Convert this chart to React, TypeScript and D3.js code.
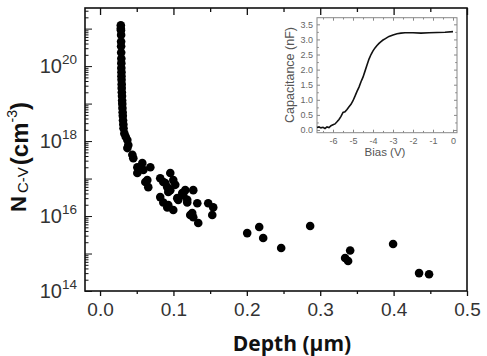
import { useEffect, useRef } from "react";
import * as d3 from "d3";

// C-V carrier profile: depth (µm) vs. carrier density (cm^-3)
const depthUm = [
  0.0283, 0.0283, 0.0285, 0.0287, 0.0287, 0.0287, 0.0288, 0.029, 0.029, 0.029,
  0.0292, 0.0292, 0.0293, 0.0295, 0.0295, 0.0297, 0.0299, 0.0301, 0.0303, 0.0305,
  0.0308, 0.031, 0.0313, 0.0317, 0.032, 0.0331, 0.035, 0.0372, 0.0385, 0.0372,
  0.044, 0.0453, 0.0508, 0.0508, 0.0576, 0.059, 0.0685, 0.0617, 0.0644, 0.0657,
  0.082, 0.0862, 0.0889, 0.0957, 0.0998, 0.1025, 0.0957, 0.093, 0.0916, 0.0862,
  0.093, 0.0998, 0.082, 0.0916, 0.1066, 0.1052, 0.1134, 0.112, 0.1161, 0.1188,
  0.1188, 0.1229, 0.127, 0.1325, 0.1256, 0.127, 0.1338, 0.1474, 0.1542, 0.1529,
  0.2005, 0.2169, 0.2223, 0.2468, 0.2863, 0.3339, 0.338, 0.3408, 0.3993, 0.4347,
  0.4483,
];
const densityCm3 = [
  1.23e21, 1.0e21, 9.1e20, 6.8e20, 4.5e20, 3.4e20, 2.3e20, 1.6e20, 1.2e20, 8.9e19,
  6.9e19, 5.4e19, 4.3e19, 3.3e19, 2.6e19, 2.0e19, 1.6e19, 1.2e19, 9.8e18, 7.6e18,
  5.9e18, 4.7e18, 3.6e18, 2.8e18, 2.2e18, 1.6e18, 1.3e18, 1.07e18, 7.8e17, 6.5e17,
  4.3e17, 3.5e17, 2.0e17, 1.4e17, 2.6e17, 1.7e17, 2.0e17, 8.1e16, 9.1e16, 5.9e16,
  1.02e17, 8.1e16, 7.6e16, 1.4e17, 9.1e16, 6.8e16, 4.9e16, 4.4e16, 5.9e16, 2.3e16,
  1.95e16, 1.45e16, 3.2e16, 1.7e16, 2.7e16, 3.0e16, 3.6e16, 4.1e16, 4.9e16, 2.3e16,
  2.7e16, 1.07e16, 4.9e16, 2.2e16, 1.2e16, 9.3e15, 6.5e15, 2.2e16, 1.7e16, 1.07e16,
  3.5e15, 5.1e15, 2.6e15, 1.4e15, 5.4e15, 7.6e14, 6.3e14, 1.2e15, 1.8e15, 3.0e14,
  2.8e14,
];

// inset: capacitance vs. bias sweep
const biasV = [
  -6.8, -6.7, -6.6, -6.5, -6.4, -6.3, -6.2, -6.1, -6.0, -5.9, -5.8, -5.7, -5.6,
  -5.5, -5.4, -5.3, -5.2, -5.1, -5.0, -4.9, -4.8, -4.7, -4.6, -4.5, -4.4, -4.3,
  -4.2, -4.1, -4.0, -3.9, -3.8, -3.7, -3.6, -3.5, -3.4, -3.3, -3.2, -3.0, -2.8,
  -2.6, -2.4, -2.0, -1.6, -1.2, -0.8, -0.4, 0.0,
];
const capNF = [
  0.08, 0.1, 0.07, 0.09, 0.05, 0.1, 0.08, 0.14, 0.17, 0.2, 0.27, 0.35, 0.45,
  0.58, 0.6, 0.68, 0.77, 0.85, 0.97, 1.12, 1.28, 1.42, 1.6, 1.75, 1.95, 2.15,
  2.35, 2.5, 2.62, 2.72, 2.8, 2.87, 2.93, 2.98, 3.02, 3.06, 3.1, 3.15, 3.19,
  3.21, 3.22, 3.22, 3.21, 3.22, 3.23, 3.24, 3.26,
];

const xMajor = [0, 0.1, 0.2, 0.3, 0.4, 0.5];
const xMinor = [0.05, 0.15, 0.25, 0.35, 0.45];
const yLabelExps = [14, 16, 18, 20];
const insetXTicks = [-6, -5, -4, -3, -2, -1, 0];
const insetYTicks = [0, 0.5, 1, 1.5, 2, 2.5, 3, 3.5];

const W = 487;
const H = 356;

const App = () => {
  const ref = useRef<SVGSVGElement | null>(null);

  useEffect(() => {
    const svg = d3.select(ref.current);
    svg.selectAll("*").remove();

    const left = 85, right = 467, top = 8, bottom = 291;
    const x = d3.scaleLinear().domain([-0.0205, 0.5]).range([left, right]);
    const y = d3.scaleLog().domain([1e14, Math.pow(10, 21.55)]).range([bottom, top]);

    const tickFont = "Liberation Sans, Arial, sans-serif";
    const titleFont = "Open Sans, sans-serif";

    // frame
    svg.append("rect")
      .attr("x", left).attr("y", top)
      .attr("width", right - left).attr("height", bottom - top)
      .attr("fill", "none").attr("stroke", "#111").attr("stroke-width", 1.6);

    // bottom axis: outward ticks + labels
    const gx = svg.append("g").attr("transform", `translate(0,${bottom})`);
    gx.call(d3.axisBottom(x).tickValues(xMajor).tickSize(5).tickSizeOuter(0)
      .tickPadding(7).tickFormat(d3.format(".1f")));
    gx.append("g").call(d3.axisBottom(x).tickValues(xMinor).tickSize(3).tickSizeOuter(0).tickFormat(() => ""));
    gx.selectAll(".domain").remove();
    gx.selectAll("line").attr("stroke", "#111").attr("stroke-width", 1.3);
    gx.selectAll("text")
      .attr("font-family", tickFont).attr("font-size", 19).attr("fill", "#333");

    // top axis: inward ticks
    const gt = svg.append("g").attr("transform", `translate(0,${top})`);
    gt.call(d3.axisTop(x).tickValues(xMajor).tickSize(-7).tickSizeOuter(0).tickFormat(() => ""));
    gt.append("g").call(d3.axisTop(x).tickValues(xMinor).tickSize(-4).tickSizeOuter(0).tickFormat(() => ""));
    gt.selectAll(".domain").remove();
    gt.selectAll("line").attr("stroke", "#111").attr("stroke-width", 1.3);

    // left axis: log ticks pointing inward
    const decades = d3.range(14, 22).map((e) => Math.pow(10, e));
    const minors: number[] = [];
    d3.range(14, 22).forEach((e) => {
      for (let m = 2; m <= 9; m++) {
        const v = m * Math.pow(10, e);
        if (v < y.domain()[1]) minors.push(v);
      }
    });
    const gy = svg.append("g").attr("transform", `translate(${left},0)`);
    gy.call(d3.axisLeft(y).tickValues(decades).tickSize(-7).tickSizeOuter(0).tickFormat(() => ""));
    gy.append("g").call(d3.axisLeft(y).tickValues(minors).tickSize(-3.5).tickSizeOuter(0).tickFormat(() => ""));
    gy.selectAll(".domain").remove();
    gy.selectAll("line").attr("stroke", "#111").attr("stroke-width", 1);

    const yl = svg.append("g");
    yLabelExps.forEach((e) => {
      yl.append("text")
        .attr("x", 62).attr("y", y(Math.pow(10, e)) + 7)
        .attr("text-anchor", "end")
        .attr("font-family", tickFont).attr("font-size", 20).attr("fill", "#333")
        .text("10");
      yl.append("text")
        .attr("x", 62).attr("y", y(Math.pow(10, e)) - 2)
        .attr("font-family", tickFont).attr("font-size", 13.5).attr("fill", "#333")
        .text(String(e));
    });

    // axis titles
    svg.append("text")
      .attr("x", 292).attr("y", 351)
      .attr("text-anchor", "middle")
      .attr("font-family", titleFont).attr("font-weight", 700).attr("font-size", 21)
      .attr("fill", "#111")
      .text("Depth (µm)");

    const yt = svg.append("text")
      .attr("transform", "translate(26,157) rotate(-90)")
      .attr("text-anchor", "middle")
      .attr("font-family", "Liberation Sans, Arial, sans-serif")
      .attr("fill", "#111");
    yt.append("tspan").attr("font-weight", 700).attr("font-size", 22).text("N");
    yt.append("tspan").attr("font-size", 15).attr("dy", 2).attr("dx", 3).text("C-V");
    yt.append("tspan").attr("font-weight", 700).attr("font-size", 24).attr("dx", 2).text("(cm");
    yt.append("tspan").attr("font-size", 14).attr("dy", -11).text("-3");
    yt.append("tspan").attr("font-weight", 700).attr("font-size", 24).attr("dy", 11).text(")");

    // data points
    const pts = depthUm.map((d, i) => ({ d, n: densityCm3[i] }));
    svg.append("g")
      .selectAll("circle")
      .data(pts)
      .join("circle")
      .attr("cx", (p) => x(p.d))
      .attr("cy", (p) => y(p.n))
      .attr("r", 4.3)
      .attr("fill", "#000");

    // inset C-V curve
    const il = 317, ir = 457, it = 17.7, ib = 132.7;
    const ix = d3.scaleLinear().domain([-6.8, 0.2]).range([il, ir]);
    const iy = d3.scaleLinear().domain([-0.09, 3.72]).range([ib, it]);
    const inset = svg.append("g");
    inset.append("rect")
      .attr("x", il).attr("y", it).attr("width", ir - il).attr("height", ib - it)
      .attr("fill", "#fff").attr("stroke", "#888").attr("stroke-width", 1);

    const ixMinor = d3.range(-6.5, 0.1, 1);
    const iyMinor = d3.range(0.25, 3.7, 0.5);
    const tickCol = "#888";
    const ig = inset.append("g");
    const addTicks = (axis: d3.Axis<d3.NumberValue>, tx: string) => {
      const g = ig.append("g").attr("transform", tx).call(axis);
      g.selectAll(".domain").remove();
      g.selectAll("line").attr("stroke", tickCol);
      return g;
    };
    const fmtY = d3.format(".1f");
    const bx = addTicks(d3.axisBottom(ix).tickValues(insetXTicks).tickSize(-3).tickSizeOuter(0).tickPadding(5)
      .tickFormat((d) => String(d)), `translate(0,${ib})`);
    addTicks(d3.axisBottom(ix).tickValues(ixMinor).tickSize(-1.8).tickSizeOuter(0).tickFormat(() => ""), `translate(0,${ib})`);
    addTicks(d3.axisTop(ix).tickValues(insetXTicks).tickSize(-3).tickSizeOuter(0).tickFormat(() => ""), `translate(0,${it})`);
    addTicks(d3.axisTop(ix).tickValues(ixMinor).tickSize(-1.8).tickSizeOuter(0).tickFormat(() => ""), `translate(0,${it})`);
    const by = addTicks(d3.axisLeft(iy).tickValues(insetYTicks).tickSize(-3).tickSizeOuter(0).tickPadding(4)
      .tickFormat((d) => fmtY(d as number)), `translate(${il},0)`);
    addTicks(d3.axisLeft(iy).tickValues(iyMinor).tickSize(-1.8).tickSizeOuter(0).tickFormat(() => ""), `translate(${il},0)`);
    addTicks(d3.axisRight(iy).tickValues(insetYTicks).tickSize(-3).tickSizeOuter(0).tickFormat(() => ""), `translate(${ir},0)`);
    addTicks(d3.axisRight(iy).tickValues(iyMinor).tickSize(-1.8).tickSizeOuter(0).tickFormat(() => ""), `translate(${ir},0)`);
    [bx, by].forEach((g) =>
      g.selectAll("text").attr("font-family", tickFont).attr("font-size", 9).attr("fill", "#666"));

    inset.append("path")
      .datum(biasV.map((b, i) => [b, capNF[i]] as [number, number]))
      .attr("fill", "none")
      .attr("stroke", "#111")
      .attr("stroke-width", 1.6)
      .attr("d", d3.line().x((d) => ix(d[0])).y((d) => iy(d[1])));

    inset.append("text")
      .attr("transform", "translate(294,75) rotate(-90)")
      .attr("text-anchor", "middle")
      .attr("font-family", tickFont).attr("font-size", 12.5).attr("fill", "#555")
      .text("Capacitance (nF)");
    inset.append("text")
      .attr("x", 385).attr("y", 156)
      .attr("text-anchor", "middle")
      .attr("font-family", tickFont).attr("font-size", 11.5).attr("fill", "#555")
      .text("Bias (V)");
  }, []);

  return (
    <svg
      ref={ref}
      width={W}
      height={H}
      style={{ position: "absolute", left: 0, top: 0, background: "#fff" }}
    />
  );
};

export default App;
